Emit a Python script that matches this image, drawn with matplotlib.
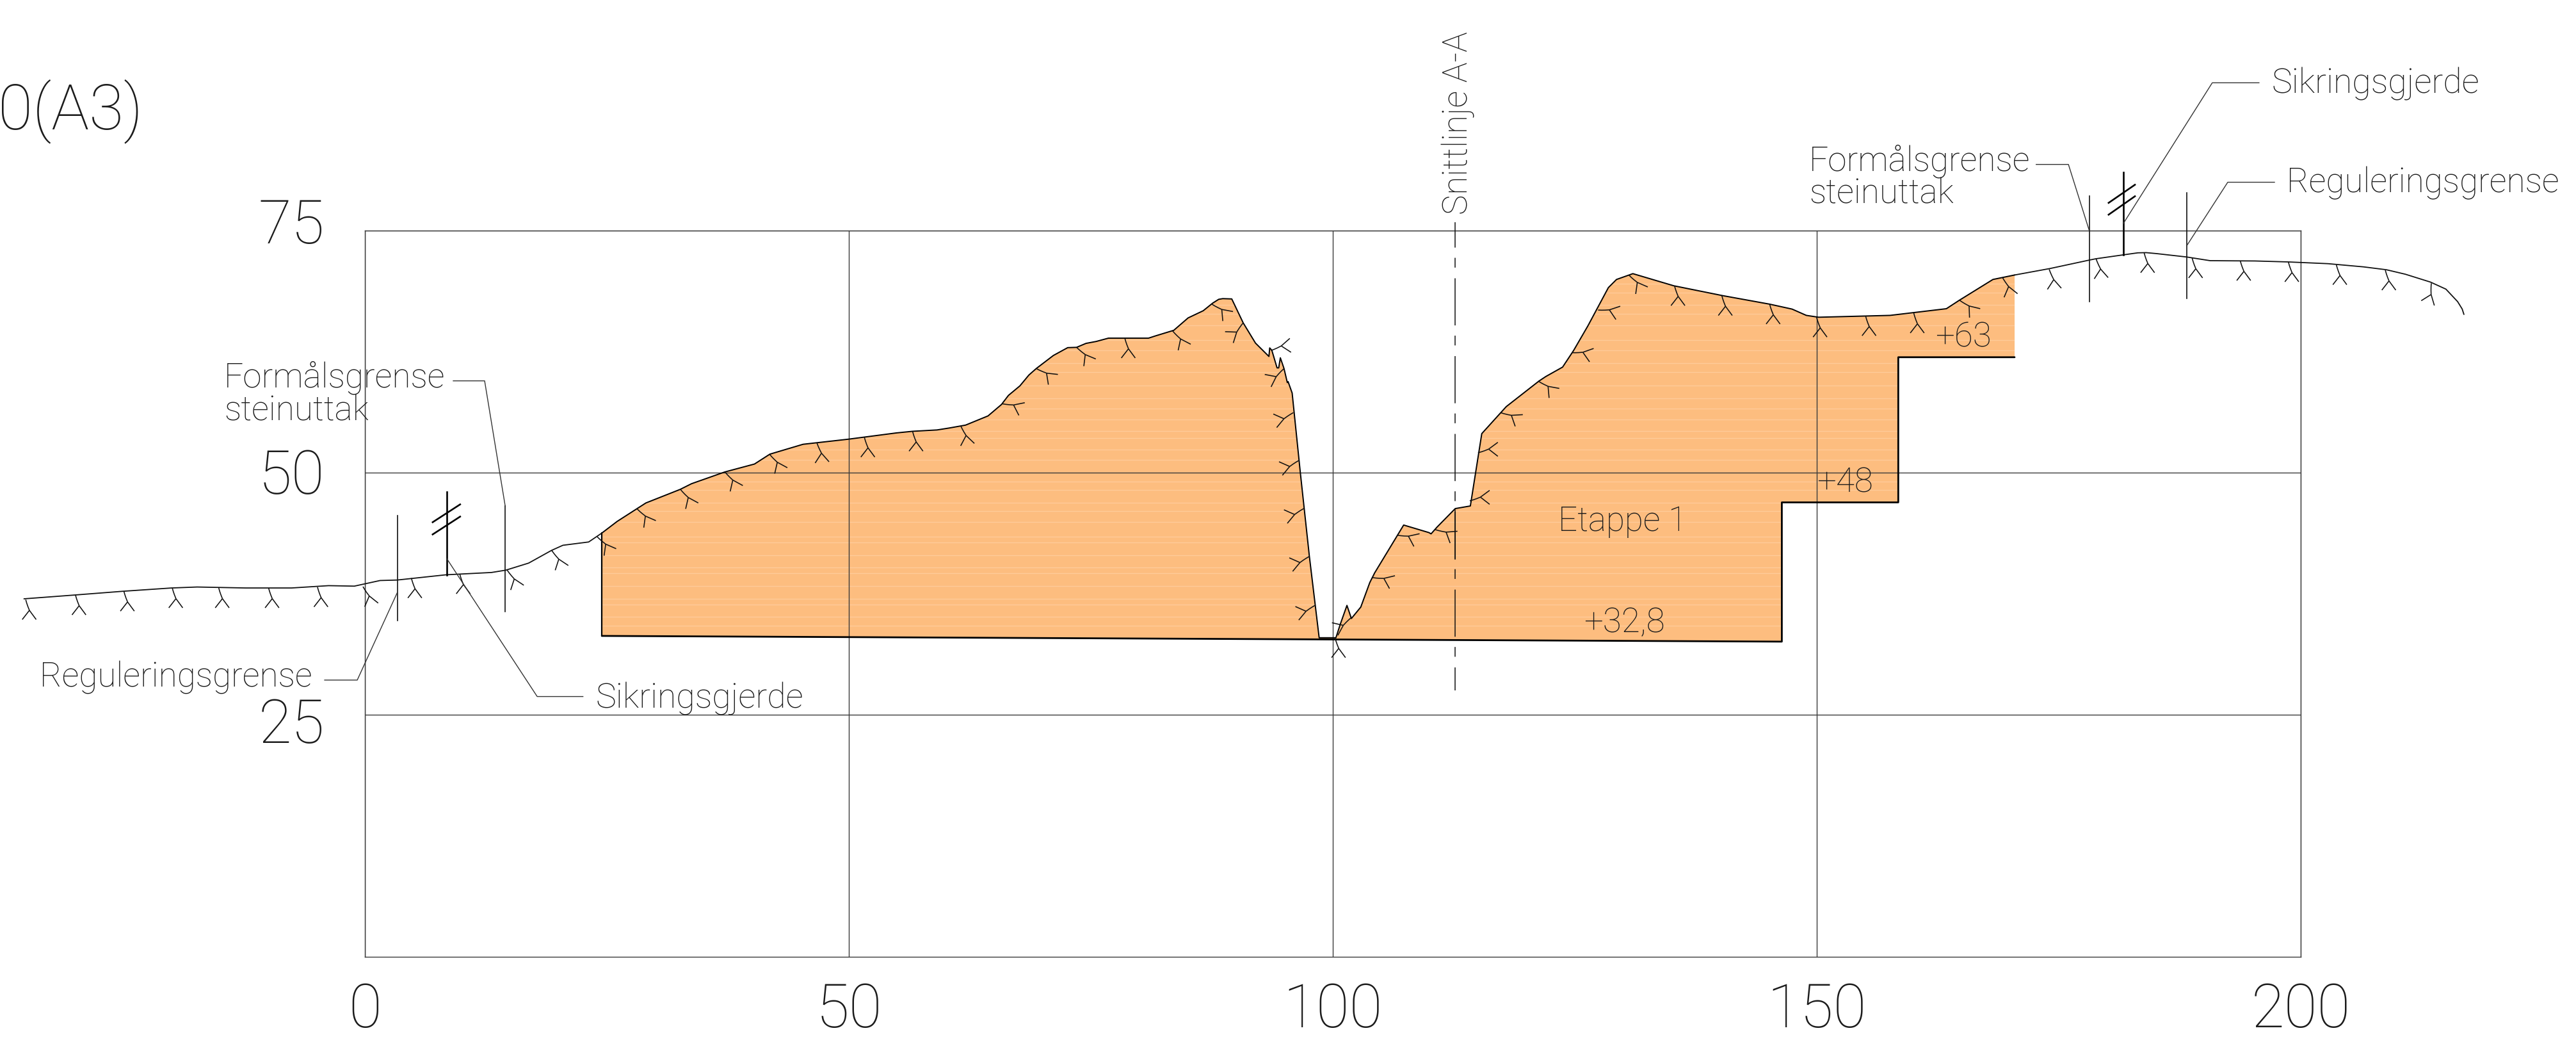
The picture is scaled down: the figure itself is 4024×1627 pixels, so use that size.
import numpy as np
import matplotlib
matplotlib.use("Agg")
import matplotlib.pyplot as plt
from matplotlib.patches import Polygon
from matplotlib.collections import LineCollection
from matplotlib.transforms import ScaledTranslation

plt.rcParams['lines.scale_dashes'] = False
plt.rcParams['font.family'] = ['Roboto', 'DejaVu Sans']

# ---------- data (distance, elevation) ----------
x_ticks = [0, 50, 100, 150, 200]
y_ticks = [25, 50, 75]
x_tick_labels = ['0', '50', '100', '150', '200']
y_tick_labels = ['25', '50', '75']

terrain_west_x = [-35.22, -30.02, -25.0, -19.98, -17.33, -12.31, -7.58, -3.75, -1.09, 1.57, 3.34, 8.36, 13.08, 14.56, 16.92, 19.28, 20.46, 23.12]
terrain_west_y = [36.97, 37.36, 37.75, 38.09, 38.19, 38.09, 38.09, 38.33, 38.28, 38.86, 38.91, 39.45, 39.69, 39.93, 40.66, 41.97, 42.50, 42.84]

pit_top_x = [24.48, 26.07, 29.03, 32.57, 33.75, 37.18, 40.25, 41.84, 45.27, 49.99, 54.89, 56.58, 59.11, 60.37, 62.06, 64.38,
             65.77, 66.49, 67.67, 68.60, 69.36, 71.13, 72.61, 73.53, 74.50, 75.56, 76.82, 80.96, 81.67, 83.57, 85.05, 86.61,
             87.58, 88.21, 88.63, 89.56, 90.74, 92.01, 93.40, 93.48, 93.70, 94.24, 94.41, 94.58, 94.96, 95.30, 95.38, 95.80,
             96.65, 97.58, 98.59, 100.32, 100.78, 101.46, 101.92, 102.89, 103.82, 104.33, 107.32, 109.93, 110.15, 110.78,
             112.65, 114.21, 115.39, 117.92, 121.30, 122.01, 123.74, 124.88, 126.36, 128.47, 129.31, 131.0, 135.22, 140.28,
             145.13, 147.45, 148.92, 150.19, 157.57, 163.39, 164.74, 168.20, 170.44]
pit_top_y = [43.76, 44.97, 46.87, 48.27, 48.86, 50.07, 50.89, 51.91, 52.93, 53.46, 54.10, 54.27, 54.41, 54.61, 54.91, 55.86,
             57.04, 57.98, 58.96, 60.08, 60.75, 62.10, 62.91, 62.94, 63.35, 63.55, 63.89, 63.89, 64.12, 64.70, 65.98, 66.72,
             67.50, 67.90, 67.97, 67.94, 65.47, 63.38, 62.00, 62.88, 62.64, 60.82, 60.82, 61.86, 60.75, 59.30, 59.40, 58.22,
             49.95, 41.35, 32.95, 32.95, 34.37, 36.29, 34.94, 36.12, 38.65, 39.66, 44.59, 43.81, 43.68, 44.39,
             46.29, 46.56, 54.03, 56.82, 59.46, 59.93, 60.90, 62.62, 65.17, 69.11, 69.95, 70.55, 69.30, 68.28,
             67.40, 66.89, 66.24, 66.05, 66.24, 66.93, 67.81, 69.95, 70.41]
pit_floor_x = [170.44, 158.42, 158.42, 146.39, 146.39, 24.48]
pit_floor_y = [61.92, 61.92, 46.93, 46.93, 32.55, 33.14]

terrain_east_x = [170.44, 174.10, 178.20, 178.85, 181.66, 183.17, 184.03, 185.11, 188.22, 190.64, 195.26, 198.72, 202.82, 206.49, 208.87, 210.81, 213.40, 215.00, 216.21, 216.68, 216.86]
terrain_east_y = [70.41, 71.08, 71.96, 72.09, 72.49, 72.70, 72.72, 72.62, 72.27, 71.89, 71.86, 71.76, 71.58, 71.25, 70.95, 70.49, 69.68, 68.95, 67.66, 66.90, 66.34]

hachure_x = [-35.04, -29.9, -24.9, -19.9, -15.1, -9.95, -4.9, -0.2, 4.8, 9.8, 14.7, 19.3, 24.0, 28.1, 32.6, 37.2, 41.8, 46.7, 51.6,
             56.58, 61.55, 65.86, 69.36, 73.53, 78.51, 83.45, 87.50, 90.74, 93.61, 94.96, 95.93, 96.52, 97.03, 97.58, 98.21,
             101.92, 100.23, 104.11, 106.65, 110.57, 114.15, 115.0, 117.32,
             121.21, 124.67, 127.41, 130.58, 135.30, 140.19, 145.13, 149.98, 155.04, 160.02, 164.74, 169.17,
             174.01, 178.85, 183.82, 188.78, 193.75, 198.72, 203.68, 208.74, 213.49]
hachure_y = [36.88, 37.36, 37.75, 38.09, 38.09, 38.09, 38.19, 38.23, 39.11, 39.54, 39.93, 41.97, 43.38, 46.28, 48.27, 50.07, 51.91, 53.07, 53.66,
             54.27, 54.85, 57.11, 60.75, 62.94, 63.89, 64.63, 67.40, 65.47, 62.61, 60.75, 56.20, 51.27, 46.31, 41.35, 36.32,
             35.04, 32.95, 39.16, 43.54, 44.12, 47.09, 52.05, 56.20,
             59.46, 62.39, 66.79, 70.41, 69.30, 68.28, 67.40, 66.05, 66.19, 66.47, 67.81, 70.18,
             71.0, 72.09, 72.70, 72.16, 71.89, 71.76, 71.46, 70.90, 69.56]
hachure_angle = [0, 0, 0, 0, 0, 0, 0, 15, 0, 0, 20, 20, 30, 30, 25, 25, 25, 5, 0,
                 0, 10, 65, 47, 31, 0, 26, 43, -54, 95, -63, -76, -76, -76, -76, -76,
                 -65, 0, 67, 66, 58, 90, 90, 57,
                 43, 73, 72, 30, 0, 0, 0, 0, 0, 0, 40, 15,
                 5, 5, 0, 0, 0, 0, 0, 0, -20]

# vertical boundary markers: x, top, bottom
boundaries_x = [3.34, 14.5, 178.16, 188.22]
boundaries_top = [45.56, 46.53, 78.54, 78.87]
boundaries_bottom = [34.69, 35.66, 67.66, 67.96]
fence_x = [8.48, 181.66]
fence_top = [48.03, 81.0]
fence_bottom = [39.45, 72.49]
fence_slash_x = [(7.0, 9.84), (7.0, 9.84), (180.15, 182.87), (180.15, 182.87)]
fence_slash_y = [(44.88, 46.72), (43.62, 45.46), (77.86, 79.73), (76.64, 78.54)]

leader_x = [[9.13, 12.37, 14.5], [3.34, -0.79, -4.16], [8.48, 17.8, 22.53],
            [172.67, 176.0, 178.16], [188.22, 192.46, 197.29], [181.66, 190.86, 195.69]]
leader_y = [[59.48, 59.48, 46.53], [37.60, 28.58, 28.58], [41.09, 26.88, 26.88],
            [81.83, 81.83, 74.97], [73.43, 79.99, 79.99], [75.71, 90.26, 90.26]]

section_x = 112.65
section_y = (75.85, 27.52)
section_solid_y = (46.2, 41.07)

stripe_levels = [34.2, 35.1, 36.4, 37.0, 38.3, 39.6, 40.2, 41.5, 42.8, 43.4, 44.9, 46.0, 46.9, 48.2, 49.1, 51.3, 52.4,
                 53.6, 54.3, 55.5, 56.6, 57.7, 59.0, 60.4, 61.3, 62.6, 63.7, 65.2, 66.4, 67.3, 68.6, 69.5]

annotations = [
    ('0(A3)', -37.9, 85.5, 71),
    ('Formålsgrense', -14.55, 58.80, 38.2), ('steinuttak', -14.55, 55.4, 38.2),
    ('Reguleringsgrense', -33.57, 27.9, 38.2), ('Sikringsgjerde', 23.83, 25.72, 38.6),
    ('Formålsgrense', 149.22, 81.18, 38.2), ('steinuttak', 149.22, 77.79, 38.2),
    ('Sikringsgjerde', 196.99, 89.17, 38.6), ('Reguleringsgrense', 198.54, 78.92, 38.2),
    ('Etappe 1', 123.28, 43.96, 38.2), ('+32,8', 125.94, 33.53, 38.2),
    ('+48', 149.98, 48.0, 38.2), ('+63', 162.21, 62.99, 38.2),
]

# ---------- figure ----------
W, H = 4024, 1627
fig = plt.figure(figsize=(W / 100, H / 100), dpi=100, facecolor='white')
ax = fig.add_axes([570 / W, (H - 1494) / H, 3024 / W, 1134 / H])
ax.set_xlim(0, 200)
ax.set_ylim(0, 75)

GRID = '#3a3a3a'
INK = '#111111'
TEXT = '#1c1c1c'
FONT = dict(family=['Roboto', 'DejaVu Sans'], weight='light')

pit_x = pit_top_x + pit_floor_x
pit_y = pit_top_y + pit_floor_y
pit = Polygon(np.column_stack([pit_x, pit_y]), closed=True, facecolor='#FDBD7F', edgecolor='none', zorder=1, clip_on=False)
ax.add_patch(pit)
stripes = ax.hlines(stripe_levels, 24, 171, colors='#FFCB99', linewidth=1.0, zorder=1.1)
stripes.set_clip_path(pit)

ax.set_xticks(x_ticks, x_tick_labels, fontsize=68, color=TEXT, **FONT)
ax.set_yticks(y_ticks, y_tick_labels, fontsize=68, color=TEXT, **FONT)
ax.tick_params(length=0, pad=0)
ax.grid(True, color=GRID, linewidth=1.0, zorder=2)
ax.set_axisbelow(False)
for s in ax.spines.values():
    s.set_color(GRID)
    s.set_linewidth(1.0)
    s.set_zorder(2)

for lab in ax.get_xticklabels():
    lab.set_transform(lab.get_transform() + ScaledTranslation(0, -28 / 72, fig.dpi_scale_trans))
for lab, dy in zip(ax.get_yticklabels(), [-44, -33, -20]):
    lab.set_verticalalignment('baseline')
    lab.set_transform(lab.get_transform() + ScaledTranslation(-63 * 0.72 / 72, dy * 0.72 / 72, fig.dpi_scale_trans))

line_kw = dict(clip_on=False, solid_capstyle='round', solid_joinstyle='round')
ax.plot(terrain_west_x + [pit_top_x[0]], terrain_west_y + [pit_top_y[0]], color=INK, lw=1.3, zorder=3, **line_kw)
ax.plot(terrain_east_x, terrain_east_y, color=INK, lw=1.3, zorder=3, **line_kw)
ax.plot(pit_top_x, pit_top_y, color='black', lw=1.4, zorder=3, **line_kw)
ax.plot(pit_floor_x, pit_floor_y, color='black', lw=2.0, zorder=3, **line_kw)
ax.plot([pit_floor_x[-1], pit_top_x[0]], [pit_floor_y[-1], pit_top_y[0]], color='black', lw=1.6, zorder=3, **line_kw)

# hachure marks: a curved stem splitting into two legs
stem_local = np.array([[0, 0], [0.1, -0.35], [0.22, -0.7], [0.38, -1.1]])
legs_local = [np.array([[0.38, -1.1], [-0.36, -2.05]]), np.array([[0.38, -1.1], [0.6, -1.4], [1.08, -2.05]])]
segs = []
for hx, hy, ha in zip(hachure_x, hachure_y, hachure_angle):
    t = np.radians(ha)
    R = np.array([[np.cos(t), -np.sin(t)], [np.sin(t), np.cos(t)]])
    for shape in [stem_local] + legs_local:
        segs.append(shape @ R.T + [hx, hy])
ax.add_collection(LineCollection(segs, colors=INK, linewidths=1.15, zorder=3, clip_on=False))

for bx, bt, bb in zip(boundaries_x, boundaries_top, boundaries_bottom):
    ax.plot([bx, bx], [bb, bt], color=INK, lw=1.2, zorder=3, clip_on=False)
for fx, ft, fb in zip(fence_x, fence_top, fence_bottom):
    ax.plot([fx, fx], [fb, ft], color='black', lw=1.9, zorder=3, clip_on=False)
for sx, sy in zip(fence_slash_x, fence_slash_y):
    ax.plot(sx, sy, color='black', lw=1.9, zorder=3, clip_on=False)
for lx, ly in zip(leader_x, leader_y):
    ax.plot(lx, ly, color='#333333', lw=1.0, zorder=3, clip_on=False)

ax.plot([section_x, section_x], section_y, color=INK, lw=1.1, zorder=3, clip_on=False,
        linestyle=(24.5, (53, 11.5, 11, 12)))
ax.plot([section_x, section_x], section_solid_y, color=INK, lw=1.1, zorder=3, clip_on=False)

for txt, tx, ty, fs in annotations:
    ax.text(tx, ty, txt, fontsize=fs, color=TEXT, ha='left', va='baseline', zorder=4, clip_on=False, **FONT)
ax.text(113.92, 76.63, 'Snittlinje A-A', fontsize=38.2, color=TEXT, rotation=90, rotation_mode='anchor',
        ha='left', va='baseline', zorder=4, clip_on=False, **FONT)

fig.savefig('out.png', dpi=100, facecolor='white')
